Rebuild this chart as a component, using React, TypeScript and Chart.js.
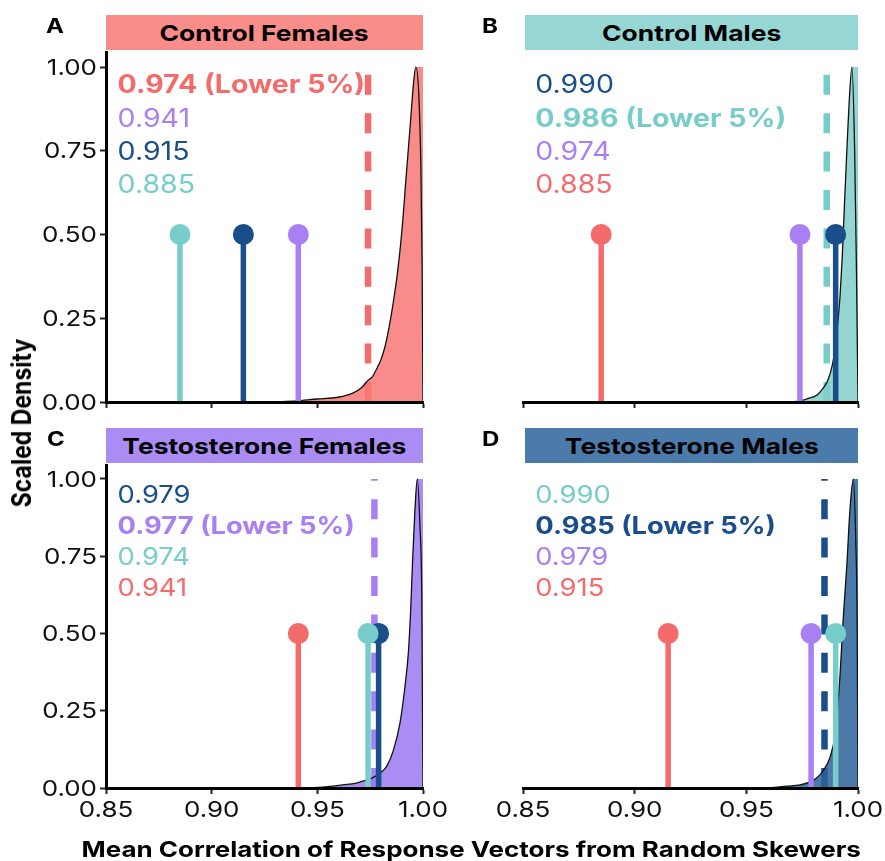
import React, { useEffect, useRef } from 'react';
import { Chart, registerables } from 'chart.js';

Chart.register(...registerables);

// ---------- colours ----------
const RED = '#F46B6C';
const TEAL = '#77CDC9';
const PURPLE = '#A880F4';
const NAVY = '#1A4E8A';

// ---------- axes ----------
const X_MIN = 0.85;
const X_MAX = 1.0;
const Y_MIN = 0;
const Y_MAX = 1.045;
const X_TICKS = [0.85, 0.9, 0.95, 1.0];
const Y_TICKS = [0, 0.25, 0.5, 0.75, 1.0];

// ---------- panels ----------
const PANEL_TITLES = ['Control Females', 'Control Males', 'Testosterone Females', 'Testosterone Males'];
const PANEL_LETTERS = ['A', 'B', 'C', 'D'];
const STRIP_COLORS = ['#F98D8A', '#96D6D4', '#AB8CF5', '#4B7BAA'];
const FILL_COLORS = ['rgba(248,120,117,0.85)', 'rgba(129,206,202,0.85)', 'rgba(155,120,243,0.85)', 'rgba(43,99,153,0.85)'];
const GROUP_COLORS = [RED, TEAL, PURPLE, NAVY];

// ---------- scaled densities of random-skewer correlations ----------
const densA_x = [0.930, 0.940, 0.950, 0.957, 0.962, 0.967, 0.971, 0.974, 0.976, 0.978, 0.980, 0.982, 0.984, 0.986, 0.988, 0.990, 0.992, 0.994, 0.9955, 0.9966, 0.998, 0.999, 0.9996, 1.000];
const densA_y = [0, 0.003, 0.009, 0.012, 0.017, 0.027, 0.043, 0.065, 0.075, 0.098, 0.125, 0.165, 0.225, 0.30, 0.39, 0.51, 0.67, 0.83, 0.95, 1.0, 0.92, 0.70, 0.40, 0.0];

const densB_x = [0.970, 0.974, 0.9785, 0.9815, 0.9845, 0.9865, 0.9885, 0.990, 0.991, 0.992, 0.993, 0.994, 0.995, 0.996, 0.9973, 0.9985, 0.9993, 1.000];
const densB_y = [0, 0.003, 0.012, 0.02, 0.042, 0.065, 0.11, 0.17, 0.24, 0.32, 0.44, 0.60, 0.75, 0.89, 1.0, 0.75, 0.40, 0.0];

const densC_x = [0.945, 0.955, 0.962, 0.9685, 0.9735, 0.977, 0.980, 0.9828, 0.9859, 0.9891, 0.9915, 0.9931, 0.9942, 0.9951, 0.9962, 0.9973, 0.9986, 0.9994, 1.000];
const densC_y = [0, 0.004, 0.010, 0.016, 0.026, 0.036, 0.05, 0.07, 0.12, 0.21, 0.33, 0.44, 0.58, 0.74, 0.90, 1.0, 0.84, 0.63, 0.0];

const densD_x = [0.960, 0.968, 0.974, 0.978, 0.981, 0.9843, 0.9875, 0.9897, 0.991, 0.992, 0.9934, 0.995, 0.9964, 0.9979, 0.9990, 0.9996, 1.000];
const densD_y = [0, 0.006, 0.010, 0.018, 0.03, 0.055, 0.10, 0.17, 0.27, 0.37, 0.55, 0.72, 0.90, 1.0, 0.80, 0.55, 0.0];

// ---------- lower 5% quantiles ----------
const LOWER5 = [0.974, 0.986, 0.977, 0.985];

// ---------- observed correlations (lollipops) ----------
const lolA_vals = [0.885, 0.915, 0.941];
const lolA_cols = [TEAL, NAVY, PURPLE];
const lolB_vals = [0.885, 0.974, 0.990];
const lolB_cols = [RED, PURPLE, NAVY];
const lolC_vals = [0.941, 0.974, 0.979];
const lolC_cols = [RED, TEAL, NAVY];
const lolD_vals = [0.915, 0.979, 0.990];
const lolD_cols = [RED, PURPLE, TEAL];
const LOLLIPOP_Y = 0.5;

// ---------- text labels ----------
const labA_vals = [0.974, 0.941, 0.915, 0.885];
const labA_cols = [RED, PURPLE, NAVY, TEAL];
const labA_lower = [true, false, false, false];
const labB_vals = [0.990, 0.986, 0.974, 0.885];
const labB_cols = [NAVY, TEAL, PURPLE, RED];
const labB_lower = [false, true, false, false];
const labC_vals = [0.979, 0.977, 0.974, 0.941];
const labC_cols = [NAVY, PURPLE, TEAL, RED];
const labC_lower = [false, true, false, false];
const labD_vals = [0.990, 0.985, 0.979, 0.915];
const labD_cols = [TEAL, NAVY, PURPLE, RED];
const labD_lower = [false, true, false, false];
const LABEL_X = 0.8555;
const LABEL_ROWS = [0.945, 0.845, 0.745, 0.645];
const VLINE_TOP = 1.0;

const X_TITLE = 'Mean Correlation of Response Vectors from Random Skewers';
const Y_TITLE = 'Scaled Density';

const FONT = 'Inter, "Liberation Sans", Arial, sans-serif';
const TEXT_SX = 1.18; // horizontal widening of glyphs seen in the reference
const TICK_SIZE = 22;

type PanelData = {
  dx: number[]; dy: number[]; q: number;
  lv: number[]; lc: string[];
  tv: number[]; tc: string[]; tl: boolean[];
};

const PANELS: PanelData[] = [
  { dx: densA_x, dy: densA_y, q: LOWER5[0], lv: lolA_vals, lc: lolA_cols, tv: labA_vals, tc: labA_cols, tl: labA_lower },
  { dx: densB_x, dy: densB_y, q: LOWER5[1], lv: lolB_vals, lc: lolB_cols, tv: labB_vals, tc: labB_cols, tl: labB_lower },
  { dx: densC_x, dy: densC_y, q: LOWER5[2], lv: lolC_vals, lc: lolC_cols, tv: labC_vals, tc: labC_cols, tl: labC_lower },
  { dx: densD_x, dy: densD_y, q: LOWER5[3], lv: lolD_vals, lc: lolD_cols, tv: labD_vals, tc: labD_cols, tl: labD_lower },
];

// ---------- layout (pixels) ----------
type Geo = { cl: number; ct: number; cw: number; ch: number; al: number; at: number; ar: number; ab: number; yAxis: boolean; xLabels: boolean; labelSize: number };
const GEO: Geo[] = [
  { cl: 0, ct: 20, cw: 450, ch: 420, al: 106, at: 52, ar: 423, ab: 402, yAxis: true, xLabels: false, labelSize: 25 },
  { cl: 490, ct: 20, cw: 395, ch: 420, al: 523, at: 52, ar: 858, ab: 402, yAxis: false, xLabels: false, labelSize: 25 },
  { cl: 0, ct: 440, cw: 450, ch: 421, al: 106, at: 465, ar: 423, ab: 788, yAxis: true, xLabels: true, labelSize: 24 },
  { cl: 490, ct: 440, cw: 395, ch: 421, al: 523, at: 465, ar: 858, ab: 788, yAxis: false, xLabels: true, labelSize: 24 },
];
const STRIPS = [
  { l: 106, t: 15, w: 317, h: 35 },
  { l: 525, t: 15, w: 333, h: 35 },
  { l: 106, t: 428, w: 317, h: 35 },
  { l: 525, t: 428, w: 333, h: 35 },
];
const LETTERS = [
  { l: 46, t: 16 },
  { l: 482, t: 16 },
  { l: 47, t: 429 },
  { l: 482, t: 429 },
];

function stretchedText(ctx: CanvasRenderingContext2D, text: string, x: number, y: number, align: CanvasTextAlign, sx: number) {
  ctx.save();
  ctx.translate(x, y);
  ctx.scale(sx, 1);
  ctx.textAlign = align;
  ctx.textBaseline = 'middle';
  ctx.fillText(text, 0, 0);
  ctx.restore();
}

const labelPlugin = {
  id: 'valueLabels',
  afterDatasetsDraw(chart: any, _args: any, opts: any) {
    const { ctx } = chart;
    const xs = chart.scales.x;
    const ys = chart.scales.y;
    ctx.save();
    opts.items.forEach((it: any, i: number) => {
      ctx.font = `${it.bold ? 700 : 400} ${opts.size}px ${FONT}`;
      ctx.fillStyle = it.color;
      stretchedText(ctx, it.text, xs.getPixelForValue(LABEL_X), ys.getPixelForValue(LABEL_ROWS[i]), 'left', 1.14);
    });
    ctx.restore();
  },
};

// tick labels drawn from the scales' own ticks, with the widened glyphs of the reference
const tickTextPlugin = {
  id: 'tickText',
  afterDraw(chart: any, _args: any, opts: any) {
    const { ctx, chartArea } = chart;
    const xs = chart.scales.x;
    const ys = chart.scales.y;
    ctx.save();
    ctx.fillStyle = '#111';
    ctx.font = `400 ${TICK_SIZE}px ${FONT}`;
    if (opts.x) {
      xs.ticks.forEach((t: any) => {
        stretchedText(ctx, Number(t.value).toFixed(2), xs.getPixelForValue(t.value), chartArea.bottom + 22, 'center', TEXT_SX);
      });
    }
    if (opts.y) {
      ys.ticks.forEach((t: any) => {
        stretchedText(ctx, Number(t.value).toFixed(2), chartArea.left - 9, ys.getPixelForValue(t.value) + 1, 'right', TEXT_SX);
      });
    }
    ctx.restore();
  },
};

function Panel({ idx }: { idx: number }) {
  const ref = useRef<HTMLCanvasElement>(null);
  const g = GEO[idx];
  useEffect(() => {
    const p = PANELS[idx];
    const curve = p.dx.map((x, i) => ({ x, y: p.dy[i] }));
    let peak = 0;
    p.dy.forEach((v, i) => { if (v > p.dy[peak]) peak = i; });
    const fillPts = curve.filter((_, i) => i <= peak).concat([{ x: X_MAX, y: p.dy[peak] }]);

    const datasets: any[] = [];
    p.lv.forEach((v, i) => {
      datasets.push({
        data: [{ x: v, y: 0 }, { x: v, y: LOLLIPOP_Y }],
        showLine: true,
        borderColor: p.lc[i],
        borderWidth: 5.5,
        pointRadius: [0, 10.5],
        pointBackgroundColor: p.lc[i],
        pointBorderWidth: 0,
        order: 0,
      });
    });
    datasets.push({
      data: curve,
      showLine: true,
      borderColor: '#111',
      borderWidth: 1.3,
      pointRadius: 0,
      cubicInterpolationMode: 'monotone',
      fill: false,
      order: 1,
    });
    datasets.push({
      data: fillPts,
      showLine: true,
      borderWidth: 0,
      borderColor: 'rgba(0,0,0,0)',
      backgroundColor: FILL_COLORS[idx],
      pointRadius: 0,
      cubicInterpolationMode: 'monotone',
      fill: 'origin',
      order: 2,
    });
    datasets.push({
      data: [{ x: p.q, y: 0 }, { x: p.q, y: VLINE_TOP }],
      showLine: true,
      borderColor: GROUP_COLORS[idx],
      borderWidth: 6.5,
      borderDash: [20, 18.4],
      pointRadius: 0,
      order: 3,
    });

    const items = p.tv.map((v, i) => ({
      text: v.toFixed(3) + (p.tl[i] ? ' (Lower 5%)' : ''),
      color: p.tc[i],
      bold: p.tl[i],
    }));

    const xAxisH = g.xLabels ? 45 : 8;
    const yAxisW = g.yAxis ? g.al - g.cl : 0;
    const padding = {
      left: g.al - g.cl - yAxisW,
      top: g.at - g.ct,
      right: g.cl + g.cw - g.ar,
      bottom: g.ct + g.ch - g.ab - xAxisH,
    };

    const chart = new Chart(ref.current as HTMLCanvasElement, {
      type: 'scatter',
      data: { datasets },
      plugins: [labelPlugin, tickTextPlugin],
      options: {
        animation: false,
        responsive: false,
        devicePixelRatio: 1,
        layout: { padding },
        plugins: {
          legend: { display: false },
          tooltip: { enabled: false },
          valueLabels: { items, size: g.labelSize },
          tickText: { x: g.xLabels, y: g.yAxis },
        } as any,
        scales: {
          x: {
            type: 'linear',
            min: X_MIN,
            max: X_MAX,
            afterBuildTicks: (axis: any) => { axis.ticks = X_TICKS.map((v) => ({ value: v })); },
            afterFit: (axis: any) => { axis.height = xAxisH; },
            ticks: { display: false, autoSkip: false, maxRotation: 0 },
            grid: { display: true, drawOnChartArea: false, drawTicks: true, tickLength: 6, tickWidth: 2, tickColor: '#222', z: 1 },
            border: { display: true, color: '#000', width: 3, z: 1 },
          },
          y: {
            type: 'linear',
            display: g.yAxis,
            min: Y_MIN,
            max: Y_MAX,
            afterBuildTicks: (axis: any) => { axis.ticks = Y_TICKS.map((v) => ({ value: v })); },
            afterFit: (axis: any) => { axis.width = yAxisW; },
            ticks: { display: false },
            grid: { display: true, drawOnChartArea: false, drawTicks: true, tickLength: 6, tickWidth: 2, tickColor: '#222', z: 1 },
            border: { display: true, color: '#000', width: 3, z: 1 },
          },
        },
      } as any,
    });
    return () => chart.destroy();
  }, [idx]);
  return (
    <canvas
      ref={ref}
      width={g.cw}
      height={g.ch}
      style={{ position: 'absolute', left: g.cl, top: g.ct, width: g.cw, height: g.ch }}
    />
  );
}

const wide = (sx: number): React.CSSProperties => ({ display: 'inline-block', transform: `scaleX(${sx})`, whiteSpace: 'nowrap' });

export default function App() {
  return (
    <div style={{ position: 'absolute', left: 0, top: 0, width: 885, height: 861, background: '#fff', overflow: 'hidden', fontFamily: FONT }}>
      {[0, 1, 2, 3].map((i) => <Panel key={i} idx={i} />)}
      {STRIPS.map((s, i) => (
        <div
          key={'s' + i}
          style={{
            position: 'absolute', left: s.l, top: s.t, width: s.w, height: s.h,
            background: STRIP_COLORS[i], color: '#000', fontWeight: 700, fontSize: 22,
            display: 'flex', alignItems: 'center', justifyContent: 'center', zIndex: 2,
          }}
        >
          <span style={wide(1.2)}>{PANEL_TITLES[i]}</span>
        </div>
      ))}
      {LETTERS.map((p, i) => (
        <div key={'l' + i} style={{ position: 'absolute', left: p.l, top: p.t, fontWeight: 700, fontSize: 20, color: '#000', lineHeight: '20px', zIndex: 2, transformOrigin: 'left center' }}>
          <span style={{ ...wide(1.2), transformOrigin: 'left center' }}>{PANEL_LETTERS[i]}</span>
        </div>
      ))}
      <div style={{ position: 'absolute', left: 0, width: 942, top: 836, textAlign: 'center', fontWeight: 700, fontSize: 22, lineHeight: '26px', color: '#000', zIndex: 2 }}>
        <span style={wide(TEXT_SX)}>{X_TITLE}</span>
      </div>
      <div
        style={{
          position: 'absolute', left: 22, top: 423, transform: 'translate(-50%, -50%) rotate(-90deg)',
          fontWeight: 700, fontSize: 23, whiteSpace: 'nowrap', color: '#000', zIndex: 2,
        }}
      >
        <span style={{ display: 'inline-block', transform: 'scaleY(1.15)' }}>{Y_TITLE}</span>
      </div>
    </div>
  );
}
